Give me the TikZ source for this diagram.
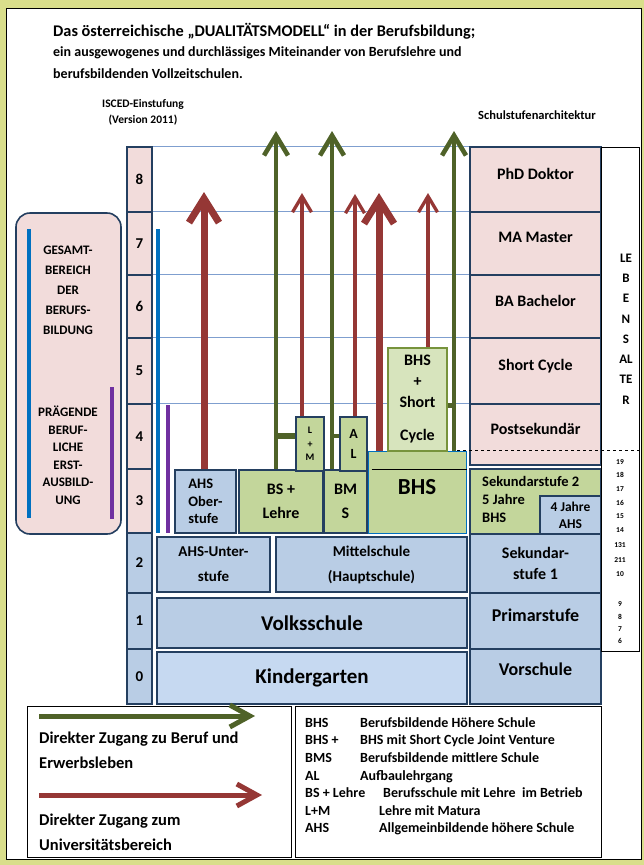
\documentclass[tikz,border=0pt]{standalone}
\usepackage{fontspec}
\setmainfont{Carlito}
\usetikzlibrary{arrows.meta,positioning}
\definecolor{framegrn}{HTML}{D9DE8B}
\definecolor{pinkfill}{HTML}{F2DCDB}
\definecolor{bluefill}{HTML}{B9CDE5}
\definecolor{kgfill}{HTML}{C6D9F1}
\definecolor{grnfill}{HTML}{C3D69B}
\definecolor{ltgrnfill}{HTML}{D7E4BD}
\definecolor{navyline}{HTML}{243F60}
\definecolor{arrred}{HTML}{953735}
\definecolor{arrgrn}{HTML}{4F6228}
\definecolor{oliveline}{HTML}{77933C}
\definecolor{isblue}{HTML}{0070C0}
\definecolor{ispurple}{HTML}{7030A0}
\definecolor{gridblue}{HTML}{7F9FCF}
\newcommand{\setfs}[2]{\fontsize{#1}{#2}\selectfont\bfseries}

\begin{document}
\begin{tikzpicture}[x=1pt, y=-1pt,
  cell/.style={draw=navyline, line width=1.6pt, inner sep=0pt, align=center},
  isced/.style={cell, minimum width=25pt, font=\setfs{15}{18}},
  arch/.style={cell, line width=1.3pt, minimum width=131pt, font=\setfs{16}{21}},
  midbox/.style={cell, fill=grnfill, font=\setfs{16}{24}},
  lowbox/.style={cell, line width=2pt, fill=bluefill, font=\setfs{15}{25}},
  lift/.style={text depth=#1},
  gridln/.style={draw=gridblue, line width=0.9pt},
  upgrn/.style={draw=arrgrn, line width=4.6pt, -{Straight Barb[length=20pt, width=24pt]}},
  upred/.style={draw=arrred, line width=3.3pt, -{Straight Barb[length=16pt, width=19pt]}},
  upredfat/.style={draw=arrred, line width=7pt, -{Straight Barb[length=24pt, width=30pt]}},
  stub/.style={draw=arrgrn, line width=#1},
  sidelbl/.style={font=\setfs{13}{20}, align=center},
  hdr/.style={font=\setfs{11.5}{16}, align=center},
  age/.style={font=\setfs{7.5}{8}, inner sep=0pt},
  legtxt/.style={font=\setfs{16.5}{25}, align=left, inner sep=0pt},
  legabb/.style={font=\setfs{14}{14}, inner sep=0pt},
]
\fill[framegrn] (0,0) rectangle (644,865);
\useasboundingbox (0,0) rectangle (644,865);
\draw[fill=white, line width=1pt] (6,8) rectangle (641,859);

% titles
\node[font=\setfs{16.3}{18}, anchor=west, inner sep=0pt] (ttl1) at (53,31) {Das österreichische „DUALITÄTSMODELL“ in der Berufsbildung;};
\node[font=\setfs{14}{16}, anchor=west, inner sep=0pt] (ttl2) at (53,53) {ein ausgewogenes und durchlässiges Miteinander von Berufslehre und};
\node[font=\setfs{14}{16}, anchor=west, inner sep=0pt] (ttl3) at (53,74) {berufsbildenden Vollzeitschulen.};
\node[hdr] (iscedhd) at (143,112) {ISCED-Einstufung\\(Version 2011)};
\node[hdr, font=\setfs{12.5}{16}] (archhd) at (537,115) {Schulstufenarchitektur};

% ISCED column
\foreach \n/\yc/\h/\c in {8/179.5/65/pinkfill, 7/243.5/63/pinkfill, 6/306.5/63/pinkfill, 5/371/66/pinkfill, 4/436.5/65/pinkfill, 3/501/64/pinkfill, 2/563/60/bluefill, 1/621/56/bluefill, 0/676.5/55/bluefill}
  \node[isced, fill=\c, minimum height=\h pt] (i\n) at (139.5,\yc) {\n};

% right column
\node[arch, fill=pinkfill, minimum height=65pt, lift=12pt] (phd) at (535.5,179.5) {PhD Doktor};
\node[arch, fill=pinkfill, minimum height=63pt, lift=12pt] (ma) at (535.5,243.5) {MA Master};
\node[arch, fill=pinkfill, minimum height=63pt, lift=12pt] (ba) at (535.5,306.5) {BA Bachelor};
\node[arch, fill=pinkfill, minimum height=66pt, lift=12pt] (sc) at (535.5,371) {Short Cycle};
\node[arch, fill=pinkfill, minimum height=61pt, lift=12pt] (post) at (535.5,434.5) {Postsekundär};
\node[arch, fill=grnfill, minimum height=65pt] (sek2) at (535.5,501.5) {};
\node[font=\setfs{14.5}{18}, align=left, anchor=north west, inner sep=0pt] (sek2txt) at (482,476) {Sekundarstufe 2\\5 Jahre\\BHS};
\node[cell, line width=1.3pt, fill=bluefill, anchor=south east, minimum width=61pt, minimum height=38pt, font=\setfs{13.5}{17}] (ahs4) at (sek2.south east) {4 Jahre\\AHS};
\node[arch, fill=bluefill, minimum height=59pt] (sek1) at (535.5,563.5) {Sekundar-\\stufe 1};
\node[arch, fill=bluefill, minimum height=56pt, lift=12pt, font=\setfs{18}{21}] (primar) at (535.5,621) {Primarstufe};
\node[arch, fill=bluefill, minimum height=55pt, lift=14pt, font=\setfs{18}{21}] (vor) at (535.5,676.5) {Vorschule};

% Lebensalter
\node[draw, line width=1pt, minimum width=38pt, minimum height=504pt, inner sep=0pt] (alter) at (620,399) {};
\node[font=\setfs{13}{20.3}, align=center] (alterlbl) at (626,329) {LE\\B\\E\\N\\S\\AL\\TE\\R};
\foreach \a/\y in {19/462, 18/475, 17/489, 16/503, 15/516, 14/530, 131/545, 211/560, 10/574, 9/604, 8/617, 7/629, 6/641}
  \node[age] (age\a) at (620,\y) {\a};

% grid lines
\foreach \n in {8,7,6,5,4}
  \draw[gridln] (i\n.north east) -- (i\n.north east -| phd.west);

% left area
\node[draw=navyline, line width=1.6pt, fill=pinkfill, rounded corners=14pt, minimum width=105pt, minimum height=321pt] (berufs) at (68.5,373.5) {};
\node[sidelbl] (gesamt) at (68,290) {GESAMT-\\BEREICH\\DER\\BERUFS-\\BILDUNG};
\node[sidelbl, font=\setfs{13}{17.5}] (praeg) at (68,455) {PRÄGENDE\\BERUF-\\LICHE\\ERST-\\AUSBILD-\\UNG};
\draw[isblue, line width=4.5pt] (29,229) -- (29,518);
\draw[ispurple, line width=4.5pt] (112,387) -- (112,519);
\draw[isblue, line width=4.5pt] (158,229) -- (158,533);
\draw[ispurple, line width=4.5pt] (168,405) -- (168,533);

% row 3 and 4
\node[cell, fill=bluefill, minimum width=61pt, minimum height=63pt, font=\setfs{14.5}{17.5}, align=left] (ahs) at (205.5,501.5) {AHS\\Ober-\\stufe};
\node[midbox, minimum width=84pt, minimum height=63pt] (bsl) at (281,501.5) {BS +\\Lehre};
\node[midbox, minimum width=43pt, minimum height=63pt] (bms) at (345.5,501.5) {BM\\S};
\node[cell, draw=isblue, line width=1pt, fill=grnfill, minimum width=98pt, minimum height=82pt, lift=10pt, font=\setfs{23}{26}] (bhs) at (417,492) {BHS};
\draw[line width=0.8pt] ([xshift=4pt]bhs.west |- bms.north) -- (bhs.east |- bms.north);
\node[midbox, minimum width=28pt, minimum height=54pt, font=\setfs{10}{13.5}] (lm) at (310,444) {L\\+\\M};
\node[midbox, minimum width=27pt, minimum height=54pt, font=\setfs{14}{20}] (al) at (353.5,444) {A\\L};
\node[cell, draw=oliveline, fill=ltgrnfill, minimum width=59pt, minimum height=103pt, font=\setfs{16}{21}] (bhssc) at (417.5,399.5) {BHS\\+\\Short\\[12pt]Cycle};

% arrows
\coordinate (tAHS) at (204,192);
\coordinate (tG1) at (276,131);
\coordinate (tG2) at (332,131);
\coordinate (tG3) at (454,131);
\coordinate (tR1) at (302,193);
\coordinate (tR2) at (355,194);
\coordinate (tR3) at (379,193);
\coordinate (tR4) at (428,193);
\draw[upredfat] (ahs.north -| tAHS) -- (tAHS);
\draw[upgrn] (bsl.north -| tG1) -- (tG1);
\draw[upgrn] (bms.north -| tG2) -- (tG2);
\draw[upgrn] (bhs.north -| tG3) -- (tG3);
\draw[upred] (lm.north -| tR1) -- (tR1);
\draw[upred] (al.north -| tR2) -- (tR2);
\draw[upredfat] (bhs.north -| tR3) -- (tR3);
\draw[upred] (bhssc.north -| tR4) -- (tR4);
\draw[stub=6pt] ([yshift=8pt]lm.west) -- ([yshift=8pt]lm.west -| tG1);
\draw[stub=4pt] ([yshift=8pt]al.west) -- ([yshift=8pt]al.west -| tG2);
\draw[stub=5pt] ([yshift=-5.5pt]bhssc.east) -- ([yshift=-5.5pt]bhssc.east -| tG3);
\draw[dashed, line width=1pt] ([xshift=3pt]bhs.north -| tG3) -- (bhs.north -| alter.east);

% rows 2, 1, 0
\node[lowbox, minimum width=113pt, minimum height=55pt] (ahsu) at (213.5,564.5) {AHS-Unter-\\stufe};
\node[lowbox, minimum width=191pt, minimum height=55pt] (mittel) at (371.5,564.5) {Mittelschule\\(Hauptschule)};
\node[lowbox, minimum width=310pt, minimum height=50pt, font=\setfs{21}{24}] (volks) at (312,623) {Volksschule};
\node[lowbox, fill=kgfill, minimum width=310pt, minimum height=52pt, font=\setfs{21}{24}] (kiga) at (312,678) {Kindergarten};

% legend
\node[draw, line width=1pt, minimum width=264pt, minimum height=151pt] (legl) at (159,781.5) {};
\node[draw, line width=1pt, minimum width=306pt, minimum height=151pt] (legr) at (448,781.5) {};
\coordinate (gA) at (39,716);
\coordinate (gB) at (255,716);
\coordinate (rA) at (39,795);
\coordinate (rB) at (262,795);
\draw[draw=arrgrn, line width=5pt, -{Straight Barb[length=20pt, width=22pt]}] (gA) -- (gB);
\draw[draw=arrred, line width=5pt, -{Straight Barb[length=20pt, width=22pt]}] (rA) -- (rB);
\node[legtxt, anchor=west] (leggrn) at (39,750) {Direkter Zugang zu Beruf und\\Erwerbsleben};
\node[legtxt, anchor=west] (legred) at (39,832) {Direkter Zugang zum\\Universitätsbereich};
\foreach \ab/\df/\dx/\yb [count=\k] in {BHS/Berufsbildende Höhere Schule/360/727, BHS +/BHS mit Short Cycle Joint Venture/360/744, BMS/Berufsbildende mittlere Schule/360/762, AL/Aufbaulehrgang/360/780, BS + Lehre/Berufsschule mit Lehre\ \ im Betrieb/383/797, L+M/Lehre mit Matura/379/815, AHS/Allgemeinbildende höhere Schule/379/832}
{
  \node[legabb, anchor=base west] (ab\k) at (305,\yb) {\ab};
  \node[legabb, anchor=base west] (df\k) at (\dx,\yb) {\df};
}
\end{tikzpicture}
\end{document}
